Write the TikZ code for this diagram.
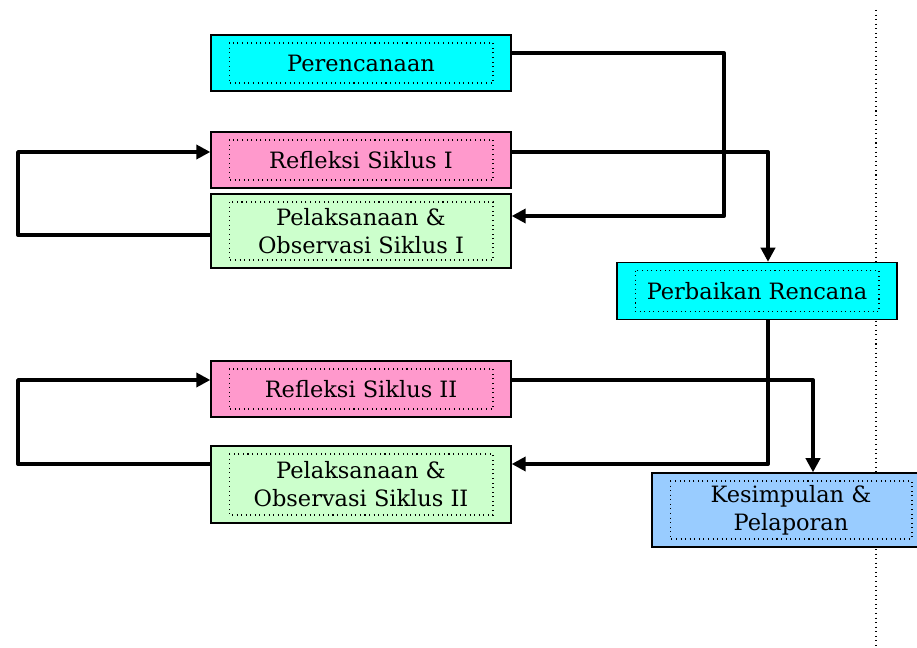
\documentclass[tikz,border=0pt]{standalone}
\usepackage{fontspec}
\setmainfont{DejaVu Serif}
\usetikzlibrary{arrows.meta}
\definecolor{boxCyan}{HTML}{00FFFF}
\definecolor{boxPink}{HTML}{FF99CC}
\definecolor{boxGreen}{HTML}{CCFFCC}
\definecolor{boxBlue}{HTML}{99CCFF}
\tikzset{
	stage/.style= {
		shape=rectangle, draw=black, line width=0.8pt,
		minimum width=6cm, minimum height=1.12cm,
		inner sep=0, align=center,
		font=\fontsize{12.8}{16}\selectfont,
		path picture={
			\draw[line width=0.6pt, dotted]
				([xshift=0.36cm,yshift=-0.16cm]path picture bounding box.north west)
				rectangle ([xshift=-0.36cm,yshift=0.16cm]path picture bounding box.south east);
		}
	},
	flow/.style= {
		line width=2.2pt, line join=round,
		-{Triangle[length=8pt,width=8pt]}
	}
}

\begin{document}
\begin{tikzpicture}[x=0.02cm,y=-0.02cm]
\clip (0,0) rectangle (917,648);
% dotted margin line (behind the boxes)
\coordinate (m1) at (876,10);
\coordinate (m2) at (876,648);
\draw[dotted, line width=0.6pt] (m1) -- (m2);

% boxes
\node[stage, fill=boxCyan] (plan) at (361,63) {Perencanaan};
\node[stage, fill=boxPink] (ref1) at (361,160) {Refleksi Siklus I};
\node[stage, fill=boxGreen, minimum height=1.48cm] (pel1) at (361,231) {Pelaksanaan \&\\Observasi Siklus I};
\node[stage, fill=boxCyan, minimum width=5.6cm, minimum height=1.14cm] (perb) at (757,291) {Perbaikan Rencana};
\node[stage, fill=boxPink] (ref2) at (361,389) {Refleksi Siklus II};
\node[stage, fill=boxGreen, minimum height=1.54cm] (pel2) at (361,484.5) {Pelaksanaan \&\\Observasi Siklus II};
\node[stage, fill=boxBlue, minimum width=5.56cm, minimum height=1.48cm] (kes) at (791,510) {Kesimpulan \&\\Pelaporan};

% turning points
\coordinate (t1) at (724,53);
\coordinate (t2) at (724,216);
\coordinate (t3) at (768,152);
\coordinate (t4) at (768,464);
\coordinate (t5) at (813,380);
\coordinate (l1) at (18,235);
\coordinate (l2) at (18,152);
\coordinate (l3) at (18,464);
\coordinate (l4) at (18,380);

% arrows
\draw[flow] (plan.east |- t1) -- (t1) -- (t2) -- (pel1.east |- t2);
\draw[flow] (ref1.east |- t3) -- (t3) -- (t3 |- perb.north);
\draw[flow] (pel1.west |- l1) -- (l1) -- (l2) -- (ref1.west |- l2);
\draw[flow] (t3 |- perb.south) -- (t4) -- (pel2.east |- t4);
\draw[flow] (ref2.east |- t5) -- (t5) -- (t5 |- kes.north);
\draw[flow] (pel2.west |- l3) -- (l3) -- (l4) -- (ref2.west |- l4);
\end{tikzpicture}
\end{document}
